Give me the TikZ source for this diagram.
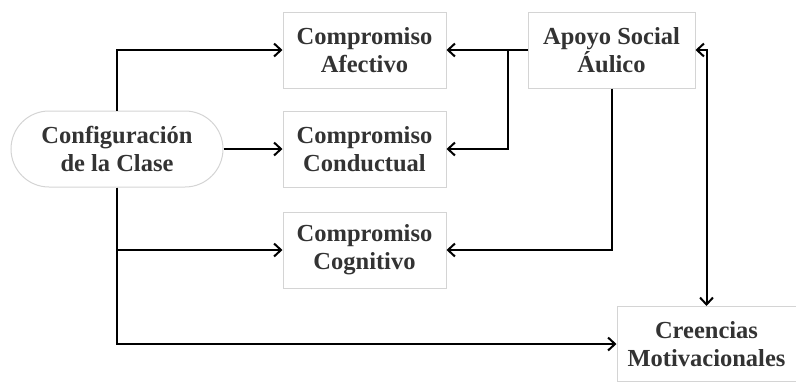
\documentclass[tikz,border=0pt]{standalone}
\usepackage{fontspec}
\setmainfont{Liberation Serif}
\usepackage{tikz}
\usetikzlibrary{arrows.meta, positioning, calc}
\definecolor{boxgray}{HTML}{D4D4D4}
\definecolor{txtgray}{HTML}{333333}

\begin{document}
\begin{tikzpicture}[
    x=1pt, y=1pt,
    box/.style={draw=boxgray, line width=1pt, minimum width=163pt,
                minimum height=76pt, align=center, text=txtgray,
                font=\fontsize{24.5}{28}\selectfont\bfseries, inner sep=2pt},
    pill/.style={box, rounded corners=38pt, minimum width=212pt},
    >={Straight Barb[length=7pt,width=13pt]}, line width=2pt
  ]
    \useasboundingbox (0,0) rectangle (796,-381);

    \node[box] (afec) at (364.5,-50) {Compromiso\\Afectivo};
    \node[box, below=22pt of afec] (cond) {Compromiso\\Conductual};
    \node[box, below=24pt of cond] (cogn) {Compromiso\\Cognitivo};
    \node[pill, left=59pt of cond] (conf) {Configuración\\de la Clase};
    \node[box, right=81pt of afec, minimum width=167pt] (apoyo)
      {Apoyo Social\\Áulico};
    \node[box, minimum width=179pt, minimum height=75pt] (creen)
      at (706.5,-344) {Creencias\\Motivacionales};

    % from the class setting
    \draw[->] (conf.north) |- (afec.west);
    \draw[->] (conf.east) -- (cond.west);
    \draw[->] (conf.south) |- (cogn.west);
    \draw[->] (conf.south) |- (creen.west);

    % from classroom social support
    \coordinate (split) at ($(apoyo.west)+(-20pt,0)$);
    \draw[->] (apoyo.west) -- (afec.east);
    \draw[->] (split) |- (cond.east);
    \draw[->] (apoyo.south) |- (cogn.east);
    \draw[<->] (apoyo.east) -| (creen.north);
  \end{tikzpicture}
\end{document}
